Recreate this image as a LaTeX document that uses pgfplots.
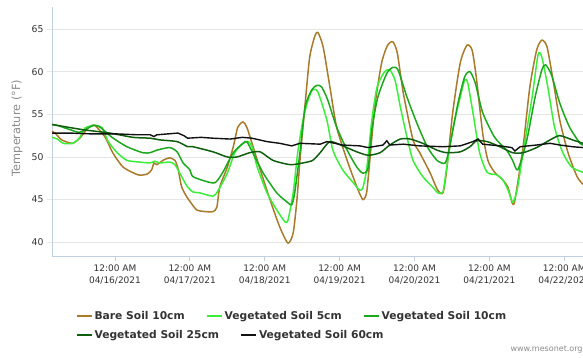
\documentclass[border=0pt]{standalone}
\usepackage{fontspec}
\setmainfont{DejaVu Sans}
\usepackage{pgfplots}
\pgfplotsset{compat=1.18}
\definecolor{bare}{HTML}{A87A2A}
\definecolor{vegA}{HTML}{3AEE3A}
\definecolor{vegB}{HTML}{1CA81C}
\definecolor{vegC}{HTML}{0F5F0F}
\definecolor{vegD}{HTML}{111111}
\definecolor{axline}{HTML}{C0D0E0}
\definecolor{gridc}{HTML}{E6E6E6}
\definecolor{textc}{HTML}{333333}
\definecolor{labc}{HTML}{8A8A8A}
\begin{document}
\begin{tikzpicture}[x=1pt,y=1pt]
\useasboundingbox (0,0) rectangle (583,357);
\pgfplotsset{
  mybase/.style={
    at={(52pt,101pt)}, anchor=south west,
    scale only axis, width=531pt, height=249pt,
    xmin=-0.841, xmax=6.25, ymin=38.39, ymax=67.58,
    legend image code/.code={\draw[##1, line width=2pt] (0pt,0pt) -- (15pt,0pt);},
  }
}
\begin{axis}[
  mybase,
  axis x line*=bottom, axis y line*=left,
  axis line style={axline, line width=0.8pt},
  xtick={0,1,2,3,4,5,6},
  xticklabels={12:00 AM\\04/16/2021,12:00 AM\\04/17/2021,12:00 AM\\04/18/2021,12:00 AM\\04/19/2021,12:00 AM\\04/20/2021,12:00 AM\\04/21/2021,12:00 AM\\04/22/2021},
  xticklabel style={align=center, font=\fontsize{9}{12.5}\selectfont, text=textc},
  ytick={40,45,50,55,60,65},
  yticklabel style={font=\fontsize{9.3}{11}\selectfont, text=textc},
  /pgf/number format/assume math mode=true,
  ymajorgrids, grid style={gridc, line width=0.8pt},
  tick align=outside, major tick length=5pt,
  x tick style={axline, line width=0.8pt},
  y tick style={gridc, line width=0.8pt},
  ylabel={Temperature (°F)},
  ylabel style={at={(axis description cs:-0.066,0.514)}, anchor=center, font=\fontsize{11.3}{13}\selectfont, text=labc},
  legend columns=3,
  legend style={at={(axis description cs:0.044,-0.241)}, anchor=west, draw=none, fill=none, inner sep=0pt,
    font=\bfseries\fontsize{10.7}{12}\selectfont, text=textc,
    /tikz/every even column/.append style={column sep=19pt}},
]
\addplot[bare, line width=1.5pt, smooth, tension=0.4] coordinates {
(-0.841,53.0) (-0.80,52.8) (-0.71,52.0) (-0.57,51.6) (-0.47,52.2) (-0.36,53.4) (-0.27,53.7) (-0.13,52.3) (-0.03,50.5)
(0.11,48.8) (0.31,47.9) (0.43,48.0) (0.49,48.5) (0.52,49.3) (0.56,49.1) (0.64,49.6) (0.73,49.9) (0.80,49.6)
(0.84,48.7) (0.89,46.5) (0.96,45.3) (1.00,44.8) (1.09,43.8) (1.20,43.6) (1.31,43.6) (1.36,44.1) (1.40,46.5)
(1.50,48.8) (1.58,51.2) (1.64,53.5) (1.71,54.1) (1.76,53.5) (1.83,51.6) (1.94,48.5) (2.07,45.0) (2.20,41.8)
(2.31,39.9) (2.38,41.1) (2.43,45.0) (2.47,49.6) (2.54,56.3) (2.60,61.7) (2.67,64.2) (2.71,64.6) (2.78,62.9)
(2.87,58.2) (2.96,53.5) (3.10,49.6) (3.23,46.5) (3.31,45.0) (3.36,45.8) (3.40,49.3) (3.47,55.9) (3.56,61.0)
(3.64,63.1) (3.71,63.5) (3.77,62.2) (3.85,57.5) (3.98,52.0) (4.07,50.5) (4.21,48.1) (4.31,46.1) (4.38,45.8)
(4.43,48.5) (4.51,55.2) (4.61,61.0) (4.70,63.1) (4.77,62.5) (4.83,59.0) (4.91,52.8) (4.98,49.6) (5.07,48.2)
(5.18,47.3) (5.25,46.4) (5.30,44.7) (5.33,44.5) (5.37,46.5) (5.45,51.2) (5.54,58.2) (5.63,62.5) (5.70,63.7)
(5.77,62.9) (5.85,59.0) (5.94,54.3) (6.05,50.5) (6.17,47.7) (6.25,46.8)
};
\addlegendentry{Bare Soil 10cm}
\addplot[vegA, line width=1.5pt, smooth, tension=0.4] coordinates {
(-0.841,52.3) (-0.77,52.1) (-0.69,51.6) (-0.56,51.6) (-0.47,52.3) (-0.40,53.4) (-0.27,53.7) (-0.17,53.4) (-0.09,51.8)
(0.03,50.5) (0.16,49.6) (0.33,49.4) (0.47,49.3) (0.53,49.5) (0.60,49.3) (0.73,49.4) (0.80,49.1) (0.89,47.7)
(0.96,46.6) (1.04,45.9) (1.13,45.8) (1.31,45.4) (1.38,46.1) (1.50,48.1) (1.60,50.5) (1.71,51.6) (1.78,51.8)
(1.83,51.2) (1.90,48.8) (2.03,45.8) (2.16,43.8) (2.27,42.4) (2.31,42.6) (2.38,45.8) (2.44,50.5) (2.51,54.3)
(2.58,56.7) (2.64,57.9) (2.71,57.6) (2.83,54.3) (2.91,50.8) (3.04,48.5) (3.18,47.0) (3.27,46.1) (3.31,46.4)
(3.36,48.5) (3.43,54.3) (3.50,58.2) (3.60,60.0) (3.67,60.2) (3.74,59.0) (3.81,55.9) (3.90,52.3) (3.98,49.6)
(4.11,47.7) (4.25,46.4) (4.31,45.8) (4.38,45.9) (4.43,48.8) (4.51,53.2) (4.61,57.0) (4.67,59.0) (4.71,58.7)
(4.78,55.2) (4.87,50.5) (4.97,48.2) (5.10,47.9) (5.18,47.3) (5.25,46.1) (5.31,44.7) (5.37,46.1) (5.45,50.5)
(5.57,57.0) (5.65,62.0) (5.70,61.7) (5.78,58.2) (5.87,53.5) (5.98,50.5) (6.10,48.8) (6.25,48.2)
};
\addlegendentry{Vegetated Soil 5cm}
\addplot[vegB, line width=1.5pt, smooth, tension=0.4] coordinates {
(-0.841,53.8) (-0.77,53.7) (-0.60,53.2) (-0.47,52.9) (-0.29,53.7) (-0.20,53.5) (-0.04,52.3) (0.16,51.2) (0.37,50.5)
(0.47,50.5) (0.56,50.8) (0.73,51.1) (0.83,50.6) (0.91,49.3) (1.00,48.5) (1.04,47.7) (1.23,47.1) (1.34,47.0)
(1.44,48.2) (1.58,50.5) (1.71,51.6) (1.76,51.8) (1.84,50.5) (1.98,48.1) (2.16,45.8) (2.30,44.7) (2.36,44.4)
(2.40,45.8) (2.47,50.5) (2.54,55.9) (2.63,57.9) (2.70,58.4) (2.76,58.2) (2.84,56.7) (2.96,53.5) (3.10,50.8)
(3.23,48.8) (3.31,48.1) (3.38,48.7) (3.43,53.2) (3.51,57.0) (3.63,59.8) (3.71,60.5) (3.78,60.2) (3.90,57.0)
(4.03,54.0) (4.17,51.2) (4.30,49.6) (4.41,49.3) (4.47,51.2) (4.58,56.3) (4.67,59.4) (4.74,60.0) (4.81,58.7)
(4.91,55.2) (5.07,52.3) (5.23,50.8) (5.31,49.6) (5.38,48.5) (5.50,52.0) (5.61,57.0) (5.70,60.2) (5.75,60.8)
(5.83,59.6) (5.94,56.3) (6.07,53.5) (6.21,51.6) (6.25,51.4)
};
\addlegendentry{Vegetated Soil 10cm}
\addplot[vegC, line width=1.5pt, smooth, tension=0.4] coordinates {
(-0.841,53.8) (-0.77,53.7) (-0.43,53.2) (-0.07,52.8) (0.24,52.3) (0.47,52.2) (0.60,52.0) (0.83,51.8) (0.97,51.2)
(1.04,51.2) (1.31,50.6) (1.50,50.0) (1.63,50.0) (1.80,50.5) (1.94,50.6) (2.11,49.6) (2.34,49.1) (2.51,49.3)
(2.64,49.6) (2.74,50.5) (2.87,51.8) (3.04,51.3) (3.23,50.6) (3.38,50.2) (3.54,50.5) (3.67,51.4) (3.81,52.1)
(3.94,52.1) (4.11,51.6) (4.30,50.8) (4.43,50.5) (4.61,50.6) (4.74,51.2) (4.83,51.9) (4.97,51.8) (5.14,51.2)
(5.31,50.5) (5.45,50.5) (5.63,51.1) (5.81,52.0) (5.94,52.5) (6.11,52.0) (6.25,51.6)
};
\addplot[vegD, line width=1.4pt] coordinates {
(-0.841,52.8) (-0.60,52.8) (-0.30,52.7) (0.03,52.7) (0.30,52.6) (0.47,52.6) (0.52,52.4) (0.56,52.6) (0.84,52.8)
(0.92,52.5) (0.97,52.2) (1.15,52.3) (1.31,52.2) (1.54,52.1) (1.70,52.3) (1.83,52.2) (2.03,51.8) (2.20,51.6)
(2.36,51.3) (2.47,51.6) (2.74,51.5) (2.83,51.8) (3.04,51.4) (3.27,51.3) (3.38,51.1) (3.58,51.4) (3.63,51.9)
(3.67,51.4) (3.85,51.5) (4.07,51.3) (4.38,51.2) (4.61,51.3) (4.78,51.8) (4.85,52.1) (4.91,51.5) (5.14,51.3)
(5.30,51.1) (5.34,50.7) (5.41,51.2) (5.63,51.4) (5.81,51.6) (5.94,51.4) (6.11,51.2) (6.25,51.1)
};
\end{axis}
\begin{axis}[
  mybase, hide axis,
  legend columns=2,
  legend style={at={(axis description cs:0.044,-0.317)}, anchor=west, draw=none, fill=none, inner sep=0pt,
    font=\bfseries\fontsize{10.7}{12}\selectfont, text=textc,
    /tikz/every even column/.append style={column sep=19pt}},
]
\addlegendimage{vegC}
\addlegendentry{Vegetated Soil 25cm}
\addlegendimage{vegD}
\addlegendentry{Vegetated Soil 60cm}
\end{axis}
\node[anchor=west, text=labc, font=\fontsize{8}{9}\selectfont] at (507,7) {www.mesonet.org};
\end{tikzpicture}
\end{document}
